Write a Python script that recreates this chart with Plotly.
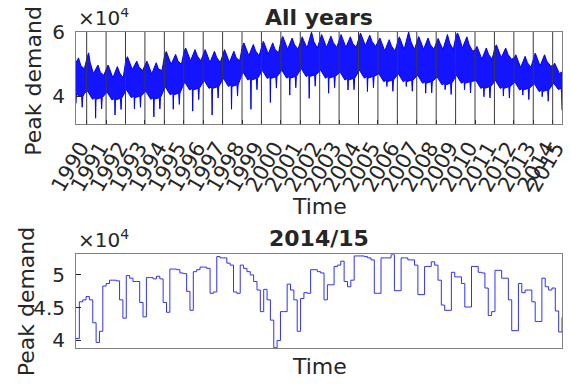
import plotly.graph_objects as go

# ---------------- data: all years (upper / lower envelope of daily peak demand, MW) ----------------
hi_t = [1989.95, 1990.08, 1990.20, 1990.38,
        1990.52, 1990.60, 1990.68, 1990.85, 1991.08, 1991.20, 1991.38,
        1991.52, 1991.60, 1991.68, 1991.85, 1992.08, 1992.20, 1992.38,
        1992.52, 1992.60, 1992.68, 1992.85, 1993.08, 1993.20, 1993.38,
        1993.52, 1993.60, 1993.68, 1993.85, 1994.08, 1994.20, 1994.38,
        1994.52, 1994.60, 1994.68, 1994.85, 1995.08, 1995.20, 1995.38,
        1995.52, 1995.60, 1995.68, 1995.85, 1996.08, 1996.20, 1996.38,
        1996.52, 1996.60, 1996.68, 1996.85, 1997.08, 1997.20, 1997.38,
        1997.52, 1997.60, 1997.68, 1997.85, 1998.08, 1998.20, 1998.38,
        1998.52, 1998.60, 1998.68, 1998.85, 1999.08, 1999.20, 1999.38,
        1999.52, 1999.60, 1999.68, 1999.85, 2000.08, 2000.20, 2000.38,
        2000.52, 2000.60, 2000.68, 2000.85, 2001.08, 2001.20, 2001.38,
        2001.52, 2001.60, 2001.68, 2001.85, 2002.08, 2002.20, 2002.38,
        2002.52, 2002.60, 2002.68, 2002.85, 2003.08, 2003.20, 2003.38,
        2003.52, 2003.60, 2003.68, 2003.85, 2004.08, 2004.20, 2004.38,
        2004.52, 2004.60, 2004.68, 2004.85, 2005.08, 2005.20, 2005.38,
        2005.52, 2005.60, 2005.68, 2005.85, 2006.08, 2006.20, 2006.38,
        2006.52, 2006.60, 2006.68, 2006.85, 2007.08, 2007.20, 2007.38,
        2007.52, 2007.60, 2007.68, 2007.85, 2008.08, 2008.20, 2008.38,
        2008.52, 2008.60, 2008.68, 2008.85, 2009.08, 2009.20, 2009.38,
        2009.52, 2009.60, 2009.68, 2009.85, 2010.08, 2010.20, 2010.38,
        2010.52, 2010.60, 2010.68, 2010.85, 2011.08, 2011.20, 2011.38,
        2011.52, 2011.60, 2011.68, 2011.85, 2012.08, 2012.20, 2012.38,
        2012.52, 2012.60, 2012.68, 2012.85, 2013.08, 2013.20, 2013.38,
        2013.52, 2013.60, 2013.68, 2013.85, 2014.08, 2014.20, 2014.38,
        2014.52, 2014.60, 2014.68, 2014.85, 2014.95, 2014.98]
hi_v = [50500, 51900, 49500, 48500,
        52000, 53500, 50500, 47000, 49700, 47500, 46500,
        48700, 49700, 48500, 45700, 49200, 47200, 45700,
        51300, 52300, 51100, 48300, 50900, 49000, 48000,
        49900, 50900, 49700, 46900, 50400, 48400, 48000,
        52900, 53900, 52700, 49900, 53000, 51000, 49900,
        54000, 55000, 53800, 51000, 54500, 52500, 51000,
        53500, 54500, 53300, 50500, 54000, 52000, 50500,
        53500, 54500, 53300, 50500, 54000, 52000, 51000,
        55600, 56600, 55400, 52600, 56100, 54100, 52600,
        56100, 57100, 55900, 53100, 56600, 54600, 53500,
        57600, 58600, 57400, 54600, 58100, 56100, 54600,
        57500, 58500, 57300, 55000, 60000, 57000, 55000,
        58200, 59200, 58000, 55200, 58700, 56700, 55200,
        58200, 59200, 58000, 55200, 58500, 56500, 55200,
        58700, 59700, 58500, 55700, 59000, 57000, 55500,
        57100, 58100, 56900, 54100, 57600, 55600, 54100,
        57500, 58500, 57300, 54500, 60000, 57000, 54500,
        57600, 58600, 57400, 54600, 58100, 56100, 54600,
        57000, 58000, 56800, 54500, 59200, 56500, 54500,
        58700, 59700, 58500, 55000, 58500, 56000, 54000,
        54500, 55500, 54300, 51500, 55000, 53000, 51500,
        55000, 56000, 54800, 52000, 55000, 53000, 51500,
        51900, 52900, 51700, 48900, 52400, 50400, 49000,
        52400, 53400, 52200, 49400, 52900, 50900, 49500,
        49300, 50300, 49100, 47000, 47500, 46000]

lo_t = [1989.95, 1989.97, 1990.24, 1990.27, 1990.30, 1990.40,
        1990.55, 1990.80, 1990.94, 1990.96, 1990.98, 1991.24, 1991.27, 1991.30,
        1991.55, 1991.80, 1991.94, 1991.96, 1991.98, 1992.24, 1992.27, 1992.30,
        1992.55, 1992.80, 1992.94, 1992.96, 1992.98, 1993.24, 1993.27, 1993.30,
        1993.55, 1993.80, 1993.94, 1993.96, 1993.98, 1994.24, 1994.27, 1994.30,
        1994.55, 1994.80, 1994.94, 1994.96, 1994.98, 1995.24, 1995.27, 1995.30,
        1995.55, 1995.80, 1995.94, 1995.96, 1995.98, 1996.24, 1996.27, 1996.30,
        1996.55, 1996.80, 1996.94, 1996.96, 1996.98, 1997.24, 1997.27, 1997.30,
        1997.55, 1997.80, 1997.94, 1997.96, 1997.98, 1998.24, 1998.27, 1998.30,
        1998.55, 1998.80, 1998.94, 1998.96, 1998.98, 1999.24, 1999.27, 1999.30,
        1999.55, 1999.80, 1999.94, 1999.96, 1999.98, 2000.24, 2000.27, 2000.30,
        2000.55, 2000.80, 2000.94, 2000.96, 2000.98, 2001.24, 2001.27, 2001.30,
        2001.55, 2001.80, 2001.94, 2001.96, 2001.98, 2002.24, 2002.27, 2002.30,
        2002.55, 2002.80, 2002.94, 2002.96, 2002.98, 2003.24, 2003.27, 2003.30,
        2003.55, 2003.80, 2003.94, 2003.96, 2003.98, 2004.24, 2004.27, 2004.30,
        2004.55, 2004.80, 2004.94, 2004.96, 2004.98, 2005.24, 2005.27, 2005.30,
        2005.55, 2005.80, 2005.94, 2005.96, 2005.98, 2006.24, 2006.27, 2006.30,
        2006.55, 2006.80, 2006.94, 2006.96, 2006.98, 2007.24, 2007.27, 2007.30,
        2007.55, 2007.80, 2007.94, 2007.96, 2007.98, 2008.24, 2008.27, 2008.30,
        2008.55, 2008.80, 2008.94, 2008.96, 2008.98, 2009.24, 2009.27, 2009.30,
        2009.55, 2009.80, 2009.94, 2009.96, 2009.98, 2010.24, 2010.27, 2010.30,
        2010.55, 2010.80, 2010.94, 2010.96, 2010.98, 2011.24, 2011.27, 2011.30,
        2011.55, 2011.80, 2011.94, 2011.96, 2011.98, 2012.24, 2012.27, 2012.30,
        2012.55, 2012.80, 2012.94, 2012.96, 2012.98, 2013.24, 2013.27, 2013.30,
        2013.55, 2013.80, 2013.94, 2013.96, 2013.98, 2014.24, 2014.27, 2014.30,
        2014.55, 2014.80, 2014.93, 2014.96, 2014.98]
lo_v = [37700, 40500, 39800, 36500, 39800, 41000,
        41500, 39000, 39500, 33100, 39000, 39500, 36000, 39500,
        41300, 38800, 39300, 34100, 38800, 39300, 35800, 39300,
        42000, 39500, 40000, 36000, 39500, 40000, 36500, 40000,
        41500, 39000, 39500, 33500, 39000, 39500, 36000, 39500,
        42900, 40400, 40900, 35900, 40400, 40900, 37400, 40900,
        44400, 41900, 42400, 35300, 41900, 42400, 38900, 42400,
        44900, 42400, 42900, 34100, 42400, 42900, 39400, 42900,
        45500, 43000, 43500, 35900, 43000, 43500, 40000, 43500,
        47500, 45000, 45500, 35900, 45000, 45500, 42000, 45500,
        48000, 45500, 46000, 38000, 45500, 46000, 42500, 46000,
        48100, 45600, 46100, 40300, 45600, 46100, 42600, 46100,
        48600, 46100, 46600, 39300, 46100, 46600, 43100, 46600,
        48100, 45600, 46100, 40900, 45600, 46100, 42600, 46100,
        47500, 45000, 45500, 41900, 45000, 45500, 42000, 45500,
        48100, 45600, 46100, 41400, 45600, 46100, 42600, 46100,
        47000, 44500, 45000, 43000, 44500, 45000, 41500, 45000,
        47000, 44500, 45000, 43000, 44500, 45000, 41500, 45000,
        46500, 44000, 44500, 40900, 44000, 44500, 41000, 44500,
        46000, 43500, 44000, 42000, 43500, 44000, 40500, 44000,
        46500, 44000, 44500, 42000, 44000, 44500, 41000, 44500,
        44900, 42400, 42900, 39800, 42400, 42900, 39400, 42900,
        44900, 42400, 42900, 40000, 42400, 42900, 39400, 42900,
        44400, 41900, 42400, 40300, 41900, 42400, 38900, 42400,
        43900, 41400, 41900, 39800, 41400, 41900, 38400, 41900,
        44000, 42000, 42500, 41000, 35600]

year_tick_pos = [1990.5, 1991.5, 1992.5, 1993.5, 1994.5, 1995.5, 1996.5, 1997.5, 1998.5,
                 1999.5, 2000.5, 2001.5, 2002.5, 2003.5, 2004.5, 2005.5, 2006.5, 2007.5,
                 2008.5, 2009.5, 2010.5, 2011.5, 2012.5, 2013.5, 2014.5, 2014.975]
year_labels = ["1990", "1991", "1992", "1993", "1994", "1995", "1996", "1997", "1998",
               "1999", "2000", "2001", "2002", "2003", "2004", "2005", "2006", "2007",
               "2008", "2009", "2010", "2011", "2012", "2013", "2014", "2015"]

# ---------------- data: 2014/15 daily peak demand (MW) ----------------
demand_1415 = [40300, 45900, 46200, 46700, 46200, 42700, 39700, 41400, 48300, 48700,
               49200, 49200, 49100, 46200, 43400, 49900, 49500, 49000, 49000, 45800,
               43600, 49600, 49600, 49400, 49800, 49400, 45800, 44300, 50900, 50900,
               50800, 50300, 50200, 47500, 44600, 50500, 50800, 51200, 51200, 51000,
               47200, 47400, 52800, 52600, 52600, 51800, 51500, 47400, 47200, 51500,
               51000, 50500, 50000, 49000, 47700, 44400, 47800, 46200, 43100, 38900,
               40000, 44400, 44400, 48600, 47700, 46200, 41400, 46400, 47300, 47200,
               50800, 50800, 50500, 50300, 46200, 48500, 48500, 51300, 51500, 52100,
               49000, 48200, 49200, 52900, 52900, 52900, 52800, 52600, 52300, 47200,
               47200, 52600, 52600, 52600, 53100, 47600, 47600, 52600, 52600, 52300,
               52300, 51500, 47000, 47000, 51300, 51300, 52000, 51500, 49200, 45400,
               44600, 44600, 50400, 49700, 49700, 48700, 45100, 45100, 51300, 51300,
               50400, 50300, 48000, 43800, 44400, 50700, 50700, 49500, 49500, 46200,
               41500, 41500, 48700, 47300, 47700, 47700, 45900, 42900, 42900, 49500,
               48200, 47700, 48000, 44500, 41300, 43500]
day = list(range(len(demand_1415)))

top_yticks = [40000, 60000]
top_yticklabels = ["4", "6"]
bot_yticks = [40000, 45000, 50000]
bot_yticklabels = ["4", "4.5", "5"]

FONT = "DejaVu Sans"
TXT = "#262626"
FRAME = "#808080"

fig = go.Figure()
fig.add_trace(go.Scatter(x=hi_t, y=hi_v, mode="lines", line=dict(color="#0000ff", width=1),
                         xaxis="x", yaxis="y", showlegend=False, hoverinfo="skip"))
fig.add_trace(go.Scatter(x=lo_t, y=lo_v, mode="lines", line=dict(color="#0000ff", width=1),
                         fill="tonexty", fillcolor="rgba(0,0,255,0.92)",
                         xaxis="x", yaxis="y", showlegend=False, hoverinfo="skip"))
fig.add_trace(go.Scatter(x=day, y=demand_1415, mode="lines",
                         line=dict(color="#3030ff", width=1, shape="hv"),
                         xaxis="x2", yaxis="y2", showlegend=False))

# vertical year lines drawn above the data
for tv in year_tick_pos[:-1]:
    fig.add_shape(type="line", xref="x", yref="y domain", x0=tv, x1=tv, y0=0, y1=1,
                  line=dict(color="#3a3a3a", width=1), layer="above")

ax_common = dict(showline=True, mirror=True, linecolor=FRAME, linewidth=1,
                 showgrid=False, zeroline=False, tickcolor=TXT, automargin=False)

fig.update_layout(
    width=563, height=369,
    margin=dict(l=68, r=9, t=24, b=29, autoexpand=False),
    paper_bgcolor="white", plot_bgcolor="white",
    font=dict(family=FONT, color=TXT),
    xaxis=dict(domain=[0, 1], anchor="y", range=[1989.95, 2014.98],
               tickmode="array", tickvals=year_tick_pos, ticktext=year_labels,
               tickangle=-60, ticks="inside", ticklen=4, ticklabelstandoff=2,
               ticklabelshift=-6, ticklabeloverflow="allow",
               tickfont=dict(family=FONT, size=21, color=TXT), **ax_common),
    yaxis=dict(domain=[0.708, 1], anchor="x", range=[31200, 60000],
               tickmode="array", tickvals=top_yticks, ticktext=top_yticklabels,
               ticks="inside", ticklen=5, ticklabelstandoff=6,
               tickfont=dict(family=FONT, size=20, color=TXT), **ax_common),
    xaxis2=dict(domain=[0, 1], anchor="y2", range=[0, len(demand_1415) - 1],
                showticklabels=False, ticks="", **ax_common),
    yaxis2=dict(domain=[0, 0.2965], anchor="x2", range=[38850, 53150],
                tickmode="array", tickvals=bot_yticks, ticktext=bot_yticklabels,
                ticks="inside", ticklen=5, ticklabelstandoff=6,
                tickfont=dict(family=FONT, size=20, color=TXT), **ax_common),
)

ann = [
    dict(text="<b>All years</b>", x=0.5, y=1.047, size=22),
    dict(text="<b>2014/15</b>", x=0.5, y=0.348, size=22),
    dict(text="Time", x=0.5, y=0.449, size=22),
    dict(text="Time", x=0.5, y=-0.06, size=22),
    dict(text="Peak demand", x=-0.0864, y=0.846, size=22, textangle=-90),
    dict(text="Peak demand", x=-0.1, y=0.149, size=22, textangle=-90),
]
for a in ann:
    fig.add_annotation(xref="paper", yref="paper", showarrow=False,
                       xanchor="center", yanchor="middle",
                       font=dict(family=FONT, color=TXT, size=a["size"]),
                       text=a["text"], x=a["x"], y=a["y"], textangle=a.get("textangle", 0))
for ytop in [1.0, 0.2965]:
    fig.add_annotation(xref="paper", yref="paper", showarrow=False, x=0, y=ytop,
                       xanchor="left", yanchor="bottom", yshift=0,
                       text="×10<sup>4</sup>", font=dict(family=FONT, color=TXT, size=20))

fig.write_html("out.html")
